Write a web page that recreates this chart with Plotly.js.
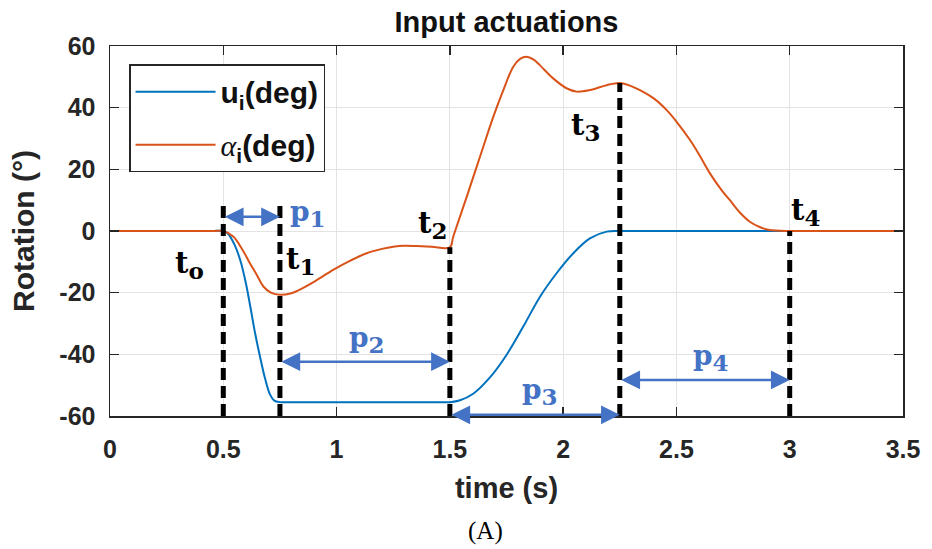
<!DOCTYPE html>
<html>
<head>
<meta charset="utf-8">
<script src="https://cdn.plot.ly/plotly-3.0.1.min.js"></script>
<style>
  html, body { margin: 0; padding: 0; background: #fff; }
  #chart { width: 932px; height: 549px; }
</style>
</head>
<body>
<div id="chart"></div>
<script>
// ---- data ----
const uTime = [0, 0.25, 0.45, 0.5, 0.52, 0.55, 0.575, 0.6, 0.618, 0.64, 0.662, 0.685, 0.706, 0.725, 0.75,
               0.8, 1.0, 1.25, 1.45, 1.5, 1.545, 1.603, 1.677, 1.75, 1.824, 1.898, 1.971, 2.045, 2.118, 2.192, 2.25,
               2.3, 2.6, 3.0, 3.5];
const uDeg  = [0, 0, 0, 0, -0.8, -4.5, -9.5, -17, -24, -33, -40.7, -48, -53, -55, -55.5,
               -55.5, -55.5, -55.5, -55.5, -55.5, -54.9, -52.8, -47.5, -40.2, -31, -21.3, -13.7, -7.2, -2.4, -0.2, 0,
               0, 0, 0, 0];

const aTime = [0, 0.25, 0.45, 0.5, 0.544, 0.58, 0.618, 0.65, 0.677, 0.71, 0.75, 0.8, 0.838, 0.9, 0.985, 1.05, 1.133,
               1.2, 1.25, 1.3, 1.353, 1.42, 1.5, 1.515, 1.574, 1.633, 1.692, 1.736, 1.78, 1.81, 1.838, 1.87, 1.897,
               1.956, 2.015, 2.06, 2.118, 2.192, 2.25, 2.3, 2.339, 2.4, 2.457, 2.5, 2.56, 2.6, 2.648, 2.7, 2.736,
               2.78, 2.824, 2.87, 2.912, 3.0, 3.05, 3.25, 3.5];
const aDeg  = [0, 0, 0, 0, -1.8, -5.5, -10.5, -14.5, -18, -20, -20.7, -20.2, -19, -16.5, -12.6, -10, -7.2,
               -5.8, -5.1, -4.8, -4.9, -5.1, -5.3, -1.8, 11, 24.1, 37.1, 45.7, 53.3, 55.8, 56.5, 55.6, 53.8,
               49.5, 46.3, 45.2, 45.7, 47.3, 48, 47, 45.7, 43, 39.2, 35.5, 29.5, 24.8, 18.7, 13.2, 10,
               6, 3, 1.2, 0.3, 0, 0, 0, 0];

// event instants (dashed markers) and their top values
const eventTimes = [0.5, 0.75, 1.5, 2.25, 3.0];
const eventTops  = [10, 10, -5.3, 48, 0];
const eventNames = ['o', '1', '2', '3', '4'];
const eventLabelX = [0.353, 0.84, 1.425, 2.1, 3.07];
const eventLabelY = [-11, -9.7, 1.9, 33.7, 6.2];

// phase arrows
const phaseStart = [0.5, 0.75, 1.5, 2.25];
const phaseEnd   = [0.75, 1.5, 2.25, 3.0];
const phaseLevel = [4.6, -42.4, -59.6, -48.3];
const phaseNames = ['1', '2', '3', '4'];
const phaseLabelX = [0.874, 1.134, 1.898, 2.652];
const phaseLabelY = [5.8, -35.3, -52.2, -41];

const xTicks = [0, 0.5, 1, 1.5, 2, 2.5, 3, 3.5];
const yTicks = [-60, -40, -20, 0, 20, 40, 60];

// ---- figure ----
const blue = '#0072BD', orange = '#D95319', arrowBlue = '#4472C4';
const axisColor = '#262626';
const sans = 'Liberation Sans, Arial, sans-serif';

const traces = [
  { x: uTime, y: uDeg, type: 'scatter', mode: 'lines', name: '<b>u<sub>i</sub>(deg)</b>',
    line: { color: blue, width: 2, shape: 'spline', smoothing: 1 }, legendgroup: 'a' },
  { x: aTime, y: aDeg, type: 'scatter', mode: 'lines',
    name: "<span style='font-family:Liberation Serif;font-style:italic;font-weight:normal'>α</span><b><sub>i</sub>(deg)</b>",
    line: { color: orange, width: 2, shape: 'spline', smoothing: 1 }, legendgroup: 'b' }
];

const shapes = eventTimes.map((t, i) => ({
  type: 'line', xref: 'x', yref: 'y', x0: t, x1: t, y0: -60, y1: eventTops[i],
  line: { color: 'black', width: 5, dash: '12px,6px' }, layer: 'above'
}));

const annotations = [];
eventNames.forEach((s, i) => annotations.push({
  x: eventLabelX[i], y: eventLabelY[i], xref: 'x', yref: 'y',
  text: "t<sub><span style='font-size:23px'>" + s + "</span></sub>", showarrow: false,
  xanchor: 'center', yanchor: 'middle',
  font: { family: 'DejaVu Serif', size: 29, color: 'black', weight: 'bold' }
}));
phaseStart.forEach((s, i) => annotations.push({
  x: phaseEnd[i], y: phaseLevel[i], ax: s, ay: phaseLevel[i], xref: 'x', yref: 'y', axref: 'x', ayref: 'y',
  text: '', showarrow: true, arrowside: 'end+start', arrowhead: 2, startarrowhead: 2,
  arrowsize: 1.5, startarrowsize: 1.5, arrowwidth: 2.5, arrowcolor: arrowBlue, standoff: 0, startstandoff: 0
}));
phaseNames.forEach((s, i) => annotations.push({
  x: phaseLabelX[i], y: phaseLabelY[i], xref: 'x', yref: 'y',
  text: "p<sub><span style='font-size:23px'>" + s + "</span></sub>", showarrow: false,
  xanchor: 'center', yanchor: 'middle',
  font: { family: 'DejaVu Serif', size: 28, color: arrowBlue, weight: 'bold' }
}));
annotations.push({
  x: 0.474, y: -0.311, xref: 'paper', yref: 'paper', text: '(A)', showarrow: false,
  xanchor: 'center', yanchor: 'middle',
  font: { family: 'Liberation Serif', size: 25, color: 'black' }
});

const tickFont = { family: sans, size: 25, color: axisColor, weight: 'bold' };

const layout = {
  width: 932, height: 549,
  margin: { l: 110, r: 29, t: 46, b: 133 },
  paper_bgcolor: 'white', plot_bgcolor: 'white',
  showlegend: true,
  title: { text: 'Input actuations', x: 0.5, xref: 'paper', xanchor: 'center', y: 0.96, yanchor: 'middle',
           font: { family: sans, size: 29, color: '#111', weight: 'bold' } },
  xaxis: {
    range: [0, 3.5], tickvals: xTicks, ticktext: xTicks.map(String),
    showgrid: true, gridcolor: '#e3e3e3', gridwidth: 1, zeroline: false,
    showline: true, linecolor: axisColor, linewidth: 1.5, mirror: 'ticks',
    ticks: 'inside', ticklen: 9, tickwidth: 1.5, tickcolor: axisColor,
    tickfont: tickFont, ticklabelstandoff: 10,
    title: { text: 'time (s)', standoff: 16, font: { family: sans, size: 29, color: axisColor, weight: 'bold' } }
  },
  yaxis: {
    range: [-60, 60], tickvals: yTicks, ticktext: yTicks.map(String),
    showgrid: true, gridcolor: '#e3e3e3', gridwidth: 1, zeroline: false,
    showline: true, linecolor: axisColor, linewidth: 1.5, mirror: 'ticks',
    ticks: 'inside', ticklen: 9, tickwidth: 1.5, tickcolor: axisColor,
    tickfont: tickFont, ticklabelstandoff: 8,
    title: { text: 'Rotation (°)', standoff: 16, font: { family: sans, size: 30, color: axisColor, weight: 'bold' } }
  },
  legend: {
    x: 0.024, y: 0.951, xanchor: 'left', yanchor: 'top',
    bgcolor: 'white', bordercolor: axisColor, borderwidth: 1.5,
    font: { family: sans, size: 30, color: '#111' },
    traceorder: 'grouped', tracegroupgap: 11, itemwidth: 80
  },
  shapes: shapes,
  annotations: annotations
};

Plotly.newPlot('chart', traces, layout, { displayModeBar: false, staticPlot: true });
</script>
</body>
</html>
